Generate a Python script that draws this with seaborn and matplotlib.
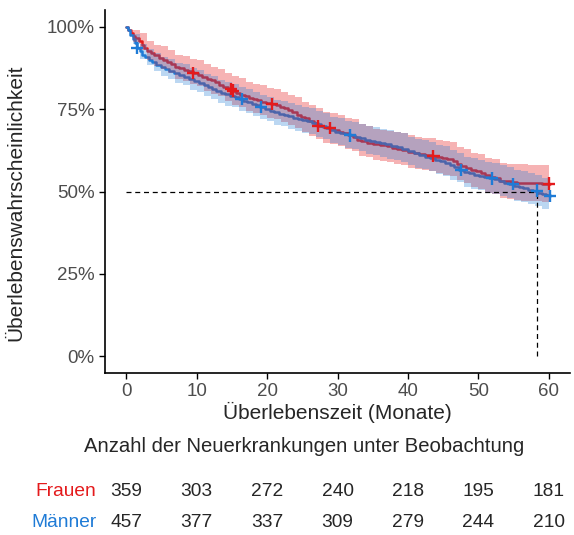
import numpy as np
import pandas as pd
import matplotlib
matplotlib.use("Agg")
import matplotlib.pyplot as plt
import seaborn as sns
from matplotlib.ticker import PercentFormatter

# Kaplan-Meier-Kurven
t_fr = [0, 0.3, 0.7, 1.0, 1.3, 1.8, 2.2, 2.5, 3.0, 3.5, 4.0, 4.6, 5.2, 5.8, 6.4, 7.0, 7.5,
        8.2, 8.8, 9.5, 10.2, 10.8, 11.5, 12.0, 12.6, 13.2, 13.8, 14.4, 15.0, 15.6, 16.2,
        16.8, 17.4, 18.0, 18.6, 19.2, 19.8, 20.5, 21.2, 21.8, 22.4, 23.0, 23.6, 24.2, 24.8,
        25.4, 26.0, 26.6, 27.2, 28.0, 28.8, 29.5, 30.2, 30.8, 31.5, 32.2, 32.8, 33.4, 34.2,
        35.0, 36.0, 37.0, 37.8, 38.5, 39.2, 40.0, 40.8, 41.6, 42.4, 43.2, 44.0, 44.8, 45.6,
        46.4, 47.0, 47.6, 48.3, 49.0, 49.7, 50.4, 51.0, 51.6, 52.3, 53.0, 53.8, 54.6, 55.5,
        56.5, 58.0, 59.0, 60.2]
s_fr = [1.0, 0.99, 0.98, 0.972, 0.965, 0.955, 0.945, 0.935, 0.927, 0.92, 0.913, 0.906, 0.9,
        0.894, 0.886, 0.878, 0.874, 0.868, 0.864, 0.86, 0.853, 0.847, 0.842, 0.838, 0.831,
        0.824, 0.817, 0.811, 0.806, 0.8, 0.794, 0.789, 0.785, 0.781, 0.777, 0.773, 0.769,
        0.765, 0.761, 0.757, 0.752, 0.747, 0.74, 0.733, 0.727, 0.722, 0.715, 0.707, 0.699,
        0.695, 0.692, 0.686, 0.682, 0.677, 0.671, 0.664, 0.657, 0.652, 0.647, 0.643, 0.64,
        0.637, 0.633, 0.629, 0.625, 0.621, 0.617, 0.614, 0.611, 0.608, 0.605, 0.602, 0.598,
        0.593, 0.585, 0.578, 0.572, 0.566, 0.561, 0.556, 0.55, 0.545, 0.54, 0.533, 0.531,
        0.529, 0.527, 0.526, 0.525, 0.524, 0.524]

t_ma = [0, 0.3, 0.6, 0.9, 1.2, 1.5, 1.9, 2.3, 2.7, 3.2, 3.7, 4.3, 4.9, 5.5, 6.1, 6.8, 7.5,
        8.2, 8.9, 9.6, 10.3, 11.0, 11.6, 12.2, 12.8, 13.4, 14.0, 14.7, 15.4, 16.0, 16.6,
        17.2, 17.8, 18.4, 19.0, 19.7, 20.4, 21.0, 21.7, 22.4, 23.0, 23.7, 24.4, 25.0, 25.7,
        26.4, 27.0, 27.7, 28.3, 29.0, 29.7, 30.4, 31.0, 31.8, 32.5, 33.2, 33.9, 34.6, 35.3,
        36.0, 36.8, 37.6, 38.4, 39.2, 40.0, 40.8, 41.6, 42.4, 43.1, 43.8, 44.5, 45.2, 45.9,
        46.6, 47.3, 48.0, 48.7, 49.4, 50.1, 50.8, 51.5, 52.2, 52.9, 53.6, 54.3, 55.0, 55.7,
        56.4, 57.1, 57.8, 58.4, 59.0, 59.6, 60.2]
s_ma = [1.0, 0.99, 0.975, 0.962, 0.95, 0.935, 0.925, 0.915, 0.908, 0.9, 0.892, 0.885, 0.878,
        0.872, 0.866, 0.86, 0.854, 0.848, 0.842, 0.835, 0.829, 0.823, 0.816, 0.81, 0.804,
        0.799, 0.795, 0.791, 0.786, 0.78, 0.775, 0.77, 0.765, 0.761, 0.757, 0.751, 0.745,
        0.74, 0.736, 0.731, 0.728, 0.724, 0.721, 0.718, 0.714, 0.709, 0.704, 0.699, 0.693,
        0.687, 0.682, 0.677, 0.674, 0.67, 0.665, 0.661, 0.657, 0.653, 0.65, 0.647, 0.643,
        0.639, 0.634, 0.628, 0.622, 0.616, 0.611, 0.606, 0.602, 0.597, 0.592, 0.586, 0.58,
        0.573, 0.566, 0.56, 0.555, 0.55, 0.546, 0.543, 0.54, 0.537, 0.532, 0.527, 0.522,
        0.518, 0.514, 0.51, 0.506, 0.503, 0.497, 0.493, 0.489, 0.486]

# Konfidenzbänder (monatlich)
ci_t = list(range(0, 61))
fr_hi = [1.0, 0.99, 0.98, 0.956, 0.945, 0.94, 0.93, 0.915, 0.912, 0.903, 0.9, 0.888, 0.879,
         0.873, 0.859, 0.849, 0.843, 0.833, 0.825, 0.822, 0.814, 0.81, 0.802, 0.793, 0.786,
         0.773, 0.761, 0.754, 0.742, 0.739, 0.733, 0.724, 0.719, 0.705, 0.7, 0.691, 0.688,
         0.685, 0.682, 0.678, 0.67, 0.666, 0.663, 0.661, 0.655, 0.653, 0.649, 0.636, 0.63,
         0.618, 0.613, 0.603, 0.598, 0.586, 0.585, 0.583, 0.582, 0.581, 0.58, 0.579, 0.579]
fr_lo = [1.0, 0.954, 0.93, 0.898, 0.881, 0.872, 0.858, 0.841, 0.836, 0.825, 0.82, 0.806,
         0.797, 0.789, 0.775, 0.763, 0.757, 0.745, 0.737, 0.732, 0.724, 0.72, 0.712, 0.701,
         0.694, 0.681, 0.669, 0.66, 0.648, 0.645, 0.639, 0.63, 0.623, 0.609, 0.604, 0.595,
         0.592, 0.589, 0.584, 0.58, 0.572, 0.568, 0.565, 0.561, 0.555, 0.551, 0.547, 0.534,
         0.526, 0.514, 0.509, 0.497, 0.492, 0.48, 0.477, 0.475, 0.472, 0.471, 0.47, 0.469,
         0.469]
ma_hi = [1.0, 0.978, 0.947, 0.933, 0.919, 0.907, 0.902, 0.891, 0.886, 0.875, 0.869, 0.857,
         0.851, 0.839, 0.831, 0.827, 0.816, 0.812, 0.802, 0.794, 0.788, 0.778, 0.774, 0.767,
         0.763, 0.757, 0.753, 0.744, 0.739, 0.727, 0.722, 0.715, 0.711, 0.706, 0.699, 0.695,
         0.689, 0.686, 0.682, 0.677, 0.665, 0.66, 0.655, 0.65, 0.642, 0.637, 0.625, 0.618,
         0.605, 0.601, 0.596, 0.589, 0.587, 0.579, 0.574, 0.565, 0.561, 0.557, 0.55, 0.54,
         0.536]
ma_lo = [1.0, 0.946, 0.903, 0.883, 0.865, 0.849, 0.842, 0.829, 0.822, 0.809, 0.801, 0.789,
         0.781, 0.769, 0.759, 0.755, 0.744, 0.738, 0.728, 0.72, 0.714, 0.702, 0.698, 0.689,
         0.685, 0.679, 0.675, 0.664, 0.659, 0.647, 0.642, 0.633, 0.629, 0.624, 0.615, 0.611,
         0.605, 0.6, 0.596, 0.591, 0.579, 0.572, 0.567, 0.562, 0.552, 0.547, 0.535, 0.528,
         0.515, 0.509, 0.504, 0.497, 0.493, 0.485, 0.48, 0.471, 0.467, 0.463, 0.456, 0.446,
         0.442]

# zensierte Beobachtungen
cens_fr_t = [9.5, 14.9, 15.2, 20.7, 27.3, 28.9, 43.6, 60.0]
cens_fr_s = [0.86, 0.811, 0.806, 0.765, 0.699, 0.692, 0.608, 0.524]
cens_ma_t = [1.5, 16.4, 19.1, 31.8, 47.6, 51.9, 54.9, 58.3, 60.2]
cens_ma_s = [0.935, 0.78, 0.757, 0.67, 0.566, 0.54, 0.522, 0.503, 0.486]

median_t = 58.3

# Risikotabelle
risk_t = [0, 10, 20, 30, 40, 50, 60]
risk_fr = [359, 303, 272, 240, 218, 195, 181]
risk_ma = [457, 377, 337, 309, 279, 244, 210]

colors = {"Frauen": "#E41A1C", "Männer": "#1F7BD6"}

sns.set_theme(style="ticks")
plt.rcParams['font.family'] = ['Liberation Sans', 'DejaVu Sans']

df = pd.concat([
    pd.DataFrame({"t": t_fr, "s": s_fr, "Gruppe": "Frauen"}),
    pd.DataFrame({"t": t_ma, "s": s_ma, "Gruppe": "Männer"}),
], ignore_index=True)
cens = pd.concat([
    pd.DataFrame({"t": cens_fr_t, "s": cens_fr_s, "Gruppe": "Frauen"}),
    pd.DataFrame({"t": cens_ma_t, "s": cens_ma_s, "Gruppe": "Männer"}),
], ignore_index=True)

fig = plt.figure(figsize=(5.74, 5.35), dpi=100)
ax = fig.add_axes([0.183, 0.303, 0.81, 0.678])

sns.lineplot(data=df, x="t", y="s", hue="Gruppe", palette=colors, estimator=None,
             drawstyle="steps-post", linewidth=1.8, legend=False, ax=ax, zorder=2)
ax.fill_between(ci_t, fr_lo, fr_hi, step="post", color=colors["Frauen"], alpha=0.33,
                linewidth=0, zorder=3)
ax.fill_between(ci_t, ma_lo, ma_hi, step="post", color=colors["Männer"], alpha=0.3,
                linewidth=0, zorder=3)
sns.scatterplot(data=cens, x="t", y="s", hue="Gruppe", palette=colors, marker="+",
                s=80, linewidth=1.7, legend=False, ax=ax, zorder=5)

ax.plot([0, median_t], [0.5, 0.5], ls=(0, (4, 3)), color="black", lw=0.9, zorder=4)
ax.plot([median_t, median_t], [0, 0.5], ls=(0, (4, 3)), color="black", lw=0.9, zorder=4)

ax.set_xlim(-3, 63)
ax.set_ylim(-0.05, 1.05)
ax.set_xticks(risk_t)
ax.set_yticks([0, 0.25, 0.5, 0.75, 1.0])
ax.yaxis.set_major_formatter(PercentFormatter(1.0, decimals=0))
ax.tick_params(labelsize=13.5, labelcolor="#4D4D4D", length=4, width=1, color="black")
ax.set_xlabel("Überlebenszeit (Monate)", fontsize=15)
ax.set_ylabel("Überlebenswahrscheinlichkeit", fontsize=15)
ax.xaxis.set_label_coords(0.5, -0.08)
ax.yaxis.set_label_coords(-0.172, 0.47)
for sp in ["top", "right"]:
    ax.spines[sp].set_visible(False)
for sp in ["left", "bottom"]:
    ax.spines[sp].set_linewidth(1.2)
    ax.spines[sp].set_color("black")

# Risikotabelle unten
tab = fig.add_axes([0.183, 0.0, 0.81, 0.2])
tab.set_xlim(-3, 63)
tab.set_ylim(0, 1)
tab.axis("off")
fig.text(0.53, 1 - 447 / 535, "Anzahl der Neuerkrankungen unter Beobachtung",
         ha="center", va="center", fontsize=14.6)
for row_y, g, vals in [(0.41, "Frauen", risk_fr), (0.12, "Männer", risk_ma)]:
    tab.text(-4.2, row_y, g, ha="right", va="center", fontsize=13.8, color=colors[g])
    for x, v in zip(risk_t, vals):
        tab.text(x, row_y, str(v), ha="center", va="center", fontsize=13.8)

fig.savefig("out.png", dpi=100)
